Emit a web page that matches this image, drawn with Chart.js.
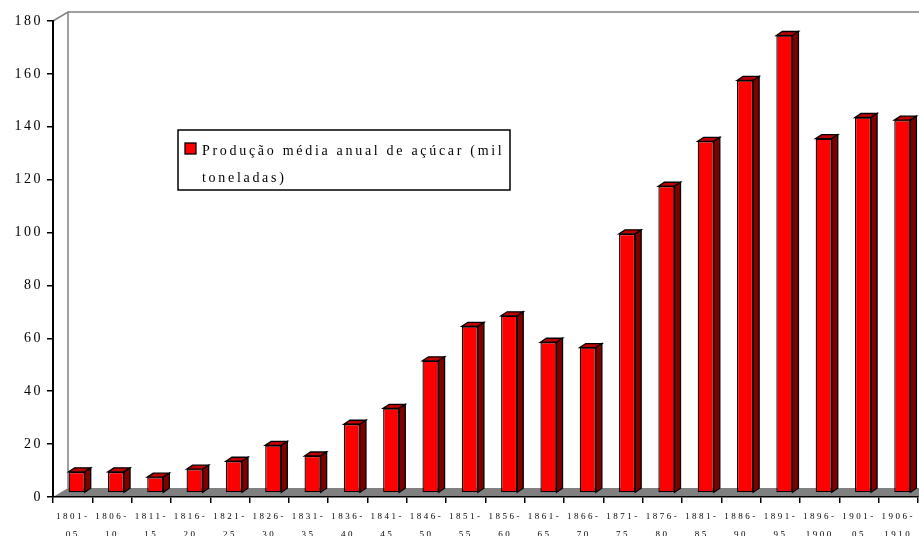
<!DOCTYPE html>
<html>
<head>
<meta charset="utf-8">
<script src="https://cdn.jsdelivr.net/npm/chart.js@4.4.1/dist/chart.umd.min.js"></script>
<style>
  html, body { margin: 0; padding: 0; background: #fff; }
  #wrap { width: 919px; height: 536px; }
</style>
</head>
<body>
<div id="wrap"><canvas id="acucarChart"></canvas></div>
<script>
// períodos de 5 anos (rótulo em duas linhas)
const periods = [
    ['1801-', '05'], ['1806-', '10'], ['1811-', '15'], ['1816-', '20'],
    ['1821-', '25'], ['1826-', '30'], ['1831-', '35'], ['1836-', '40'],
    ['1841-', '45'], ['1846-', '50'], ['1851-', '55'], ['1856-', '60'],
    ['1861-', '65'], ['1866-', '70'], ['1871-', '75'], ['1876-', '80'],
    ['1881-', '85'], ['1886-', '90'], ['1891-', '95'], ['1896-', '1900'],
    ['1901-', '05'], ['1906-', '1910']
];

// produção média anual (mil toneladas)
const producao = [8, 8, 6, 9, 12, 18, 14, 26, 32, 50, 63, 67, 57, 55, 98, 116, 133, 156, 173, 134, 142, 141];

const seriesLabel = 'Produção média anual de açúcar (mil toneladas)';
const yTicks = [0, 20, 40, 60, 80, 100, 120, 140, 160, 180];

// efeito 3D
const wallDx = 15, wallDy = 9;   // profundidade do piso / parede
const barShift = 4;              // barra fica no meio do piso
const barDx = 6, barDy = 4;      // profundidade da barra

const threeD = {
    id: 'threeD',
    beforeDraw(chart) {
        const { ctx, chartArea: a } = chart;
        ctx.letterSpacing = '2.5px';
        ctx.save();
        // piso
        ctx.fillStyle = '#808080';
        ctx.beginPath();
        ctx.moveTo(a.left, a.bottom);
        ctx.lineTo(a.left + wallDx, a.bottom - wallDy);
        ctx.lineTo(chart.width, a.bottom - wallDy);
        ctx.lineTo(chart.width, a.bottom);
        ctx.closePath();
        ctx.fill();
        // parede do fundo
        ctx.strokeStyle = '#808080';
        ctx.lineWidth = 1.5;
        ctx.beginPath();
        ctx.moveTo(a.left, a.top);
        ctx.lineTo(a.left + wallDx, a.top - wallDy);
        ctx.lineTo(chart.width, a.top - wallDy);
        ctx.moveTo(a.left + wallDx, a.top - wallDy);
        ctx.lineTo(a.left + wallDx, a.bottom - wallDy);
        ctx.stroke();
        ctx.restore();
    },
    beforeDatasetsDraw(chart) {
        chart.ctx.save();
        chart.ctx.translate(barShift, -barShift);
    },
    afterDatasetsDraw(chart) {
        const ctx = chart.ctx;
        ctx.restore();
        ctx.save();
        ctx.translate(barShift, -barShift);
        ctx.lineWidth = 1.3;
        ctx.strokeStyle = '#000';
        ctx.lineJoin = 'miter';
        chart.getDatasetMeta(0).data.forEach(bar => {
            const x0 = bar.x - bar.width / 2, x1 = bar.x + bar.width / 2;
            const yt = bar.y, yb = bar.base;
            // topo
            ctx.fillStyle = '#c00000';
            ctx.beginPath();
            ctx.moveTo(x0, yt);
            ctx.lineTo(x0 + barDx, yt - barDy);
            ctx.lineTo(x1 + barDx, yt - barDy);
            ctx.lineTo(x1, yt);
            ctx.closePath();
            ctx.fill();
            ctx.stroke();
            // lateral
            ctx.fillStyle = '#800000';
            ctx.beginPath();
            ctx.moveTo(x1, yt);
            ctx.lineTo(x1 + barDx, yt - barDy);
            ctx.lineTo(x1 + barDx, yb - barDy);
            ctx.lineTo(x1, yb);
            ctx.closePath();
            ctx.fill();
            ctx.stroke();
        });
        ctx.restore();
    },
    afterDraw(chart) {
        // legenda
        const ctx = chart.ctx;
        ctx.save();
        ctx.fillStyle = '#fff';
        ctx.fillRect(178, 130, 332, 60);
        ctx.strokeStyle = '#000';
        ctx.lineWidth = 1.5;
        ctx.strokeRect(178, 130, 332, 60);
        ctx.fillStyle = '#ff0000';
        ctx.fillRect(185, 143, 11, 11);
        ctx.lineWidth = 1.3;
        ctx.strokeRect(185, 143, 11, 11);
        ctx.font = '14px "Liberation Serif", "Times New Roman", serif';
        ctx.letterSpacing = '2.7px';
        ctx.fillStyle = '#000';
        ctx.textBaseline = 'alphabetic';
        // quebra simples por largura
        const words = seriesLabel.split(' ');
        const lines = [];
        let line = '';
        words.forEach(w => {
            const test = line ? line + ' ' + w : w;
            if (ctx.measureText(test).width > 305 && line) {
                lines.push(line);
                line = w;
            } else {
                line = test;
            }
        });
        lines.push(line);
        lines.forEach((l, i) => ctx.fillText(l, 202, 155 + i * 27));
        ctx.restore();
    }
};

const ctx = document.getElementById('acucarChart').getContext('2d');
const acucarChart = new Chart(ctx, {
    type: 'bar',
    data: {
        labels: periods,
        datasets: [{
            label: seriesLabel,
            data: producao,
            backgroundColor: '#ff0000',
            borderColor: '#000000',
            borderWidth: 1.3,
            borderSkipped: false,
            barPercentage: 0.41,
            categoryPercentage: 1.0
        }]
    },
    options: {
        responsive: true,
        maintainAspectRatio: false,
        animation: false,
        clip: false,
        layout: {
            padding: { top: 21, right: 1, left: 0, bottom: 0 }
        },
        plugins: {
            legend: { display: false },
            tooltip: { enabled: false }
        },
        scales: {
            x: {
                offset: true,
                grid: {
                    display: true,
                    offset: true,
                    drawOnChartArea: false,
                    drawTicks: true,
                    tickLength: 6,
                    color: '#000',
                    lineWidth: 1.5
                },
                border: { display: true, color: '#000', width: 1.5 },
                ticks: {
                    autoSkip: false,
                    maxRotation: 0,
                    minRotation: 0,
                    padding: 5,
                    color: '#000',
                    font: { family: '"Liberation Serif", "Times New Roman", serif', size: 9, lineHeight: 1.95 }
                },
                afterFit(scale) { scale.height = 39; }
            },
            y: {
                min: 0,
                max: 180,
                afterBuildTicks(scale) {
                    scale.ticks = yTicks.map(v => ({ value: v }));
                },
                grid: {
                    display: true,
                    drawOnChartArea: false,
                    drawTicks: true,
                    tickLength: 6,
                    color: '#000',
                    lineWidth: 1.5
                },
                border: { display: true, color: '#000', width: 2 },
                ticks: {
                    padding: 4,
                    color: '#000',
                    font: { family: '"Liberation Serif", "Times New Roman", serif', size: 14 }
                },
                afterFit(scale) { scale.width = 53; }
            }
        }
    },
    plugins: [threeD]
});
</script>
</body>
</html>
